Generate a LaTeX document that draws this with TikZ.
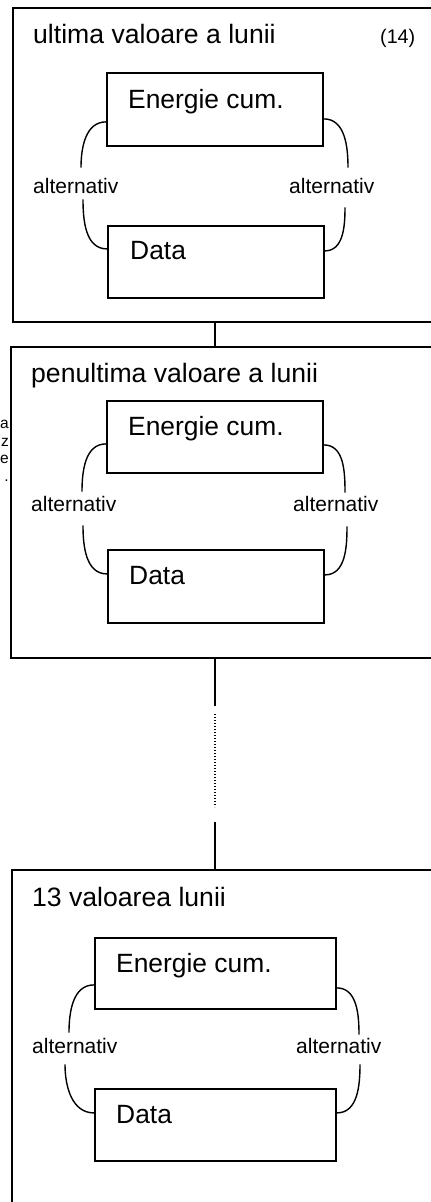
\documentclass[tikz,border=0pt]{standalone}
\usepackage{fontspec}
\setmainfont{Liberation Sans}
\usetikzlibrary{positioning,calc}

\tikzset{
  frame/.style={draw, line width=2pt, anchor=north west, inner sep=0pt},
  valbox/.style={draw, line width=1.8pt, anchor=north west, inner sep=0pt,
                 minimum width=216pt, minimum height=72pt},
  valtext/.style={anchor=base west, inner sep=0pt, font=\fontsize{26.4}{30}\selectfont},
  title/.style={anchor=base west, inner sep=0pt, font=\fontsize{26.6}{30}\selectfont},
  alttext/.style={anchor=base west, inner sep=0pt, font=\fontsize{21}{24}\selectfont},
  brace/.style={line width=1.4pt},
  link/.style={line width=1.6pt}
}

\begin{document}
\begin{tikzpicture}[x=1pt,y=-1pt]
    \useasboundingbox (0,0) rectangle (431,1202);

    % ultima valoare a lunii
    \node[frame, minimum width=440pt, minimum height=314pt] (last) at (12,7) {};
    \node[title] (lastt) at (33,43) {ultima valoare a lunii};
    \node[anchor=base west, inner sep=0pt, font=\fontsize{19.7}{22}\selectfont] (idx) at (380,43) {(14)};
    \node[valbox, minimum height=73pt] (e1) at (106,72) {};
    \node[valtext] (e1t) at ($(e1.north west)+(22,36)$) {Energie cum.};
    \node[valbox] (d1) at (107,225) {};
    \node[valtext] (d1t) at ($(d1.north west)+(23,34)$) {Data};
    \node[alttext] (l1) at (33,193) {alternativ};
    \node[alttext] (r1) at (289,193) {alternativ};
    \draw[brace] ([yshift=-12.5pt]e1.west) to[out=180,in=90] ([xshift=48pt,yshift=10pt]l1.north west);
    \draw[brace] ([xshift=50pt,yshift=-6pt]l1.south west) to[out=-90,in=180] ([yshift=13pt]d1.west);
    \draw[brace] ([yshift=-9.5pt]e1.east) to[out=0,in=90] ([xshift=59pt,yshift=10pt]r1.north west);
    \draw[brace] ([xshift=56pt,yshift=-14pt]r1.south west) to[out=-90,in=0] ([yshift=11pt]d1.east);

    % penultima valoare a lunii
    \node[frame, minimum width=440pt, minimum height=311pt] (prev) at (10,346) {};
    \node[title] (prevt) at (31,382) {penultima valoare a lunii};
    \node[valbox] (e2) at (106,400) {};
    \node[valtext] (e2t) at ($(e2.north west)+(22,35)$) {Energie cum.};
    \node[valbox, minimum height=73pt] (d2) at (107,549) {};
    \node[valtext] (d2t) at ($(d2.north west)+(22,35)$) {Data};
    \node[alttext] (l2) at (31,511) {alternativ};
    \node[alttext] (r2) at (293,511) {alternativ};
    \draw[brace] ([yshift=-7pt]e2.west) to[out=180,in=90] ([xshift=51pt,yshift=4pt]l2.north west);
    \draw[brace] ([xshift=52pt,yshift=-14pt]l2.south west) to[out=-90,in=180] ([yshift=12.5pt]d2.west);
    \draw[brace] ([yshift=-8pt]e2.east) to[out=0,in=90] ([xshift=52pt,yshift=3pt]r2.north west);
    \draw[brace] ([xshift=54pt,yshift=-15pt]r2.south west) to[out=-90,in=0] ([yshift=11.5pt]d2.east);

    % 13 valoarea lunii
    \node[frame, minimum width=440pt, minimum height=350pt] (first) at (11,869) {};
    \node[title] (firstt) at (32,906) {13 valoarea lunii};
    \node[valbox, minimum width=241pt, minimum height=71pt] (e3) at (94,937) {};
    \node[valtext] (e3t) at ($(e3.north west)+(22,35)$) {Energie cum.};
    \node[valbox, minimum width=241pt] (d3) at (94,1088) {};
    \node[valtext] (d3t) at ($(d3.north west)+(22,35)$) {Data};
    \node[alttext] (l3) at (32,1053) {alternativ};
    \node[alttext] (r3) at (296,1053) {alternativ};
    \draw[brace] ([yshift=-11.5pt]e3.west) to[out=180,in=90] ([xshift=37pt,yshift=5pt]l3.north west);
    \draw[brace] ([xshift=33pt,yshift=-11pt]l3.south west) to[out=-90,in=180] ([yshift=12pt]d3.west);
    \draw[brace] ([yshift=-14.5pt]e3.east) to[out=0,in=90] ([xshift=63pt,yshift=3pt]r3.north west);
    \draw[brace] ([xshift=64pt,yshift=-11pt]r3.south west) to[out=-90,in=0] ([yshift=12pt]d3.east);

    % links between the months
    \coordinate (spine) at (215,0);
    \coordinate (gapa) at (215,706);
    \coordinate (dota) at (215,714);
    \coordinate (dotb) at (215,807);
    \coordinate (gapb) at (215,822);
    \draw[link] (spine |- last.south) -- (spine |- prev.north);
    \draw[link] (spine |- prev.south) -- (gapa);
    \draw[line width=1.4pt, dash pattern=on 1.4pt off 1.6pt] (dota) -- (dotb);
    \draw[link] (gapb) -- (spine |- first.north);

    % cut text at the left edge
    \node[anchor=north east, align=right, inner sep=0pt, font=\fontsize{15.5}{17.5}\selectfont] (cut) at (9,420) {a\\z\\e\\.};
\end{tikzpicture}
\end{document}
